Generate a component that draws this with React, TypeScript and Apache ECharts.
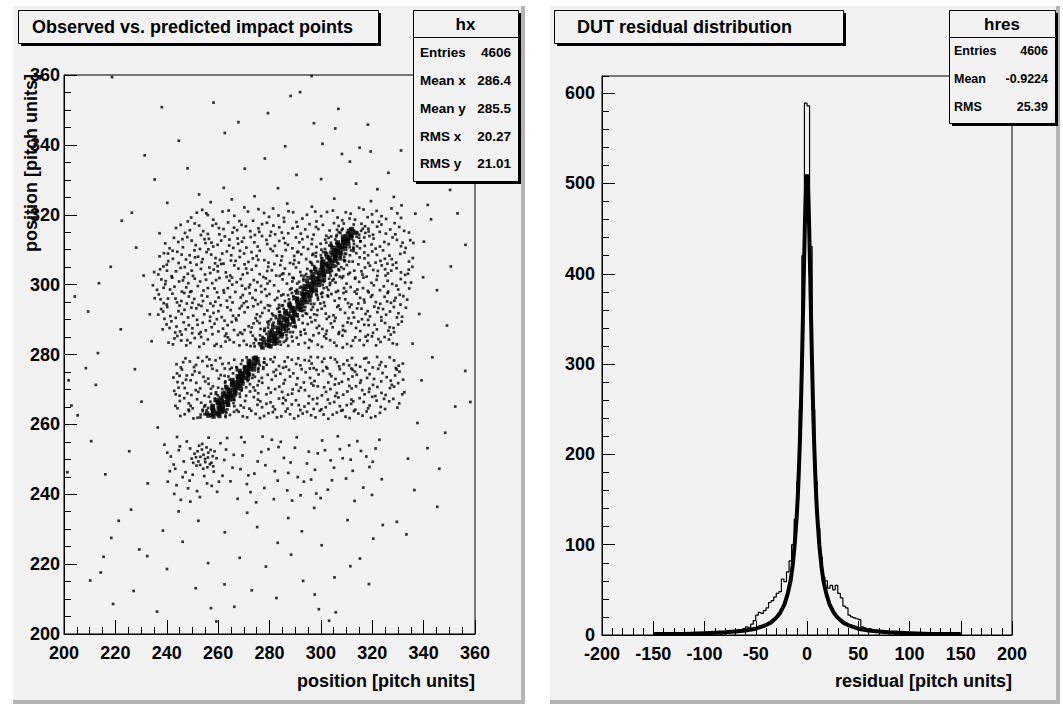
import React, { useEffect, useRef } from "react";
import * as echarts from "echarts";

const FONT = '"Liberation Sans", Arial, Helvetica, sans-serif';
const PAD = "#f2f2f2";

// ---- texts ----
const leftTitle = "Observed vs. predicted impact points";
const rightTitle = "DUT residual distribution";
const leftXTitle = "position [pitch units]";
const leftYTitle = "position [pitch units]";
const rightXTitle = "residual [pitch units]";

// ---- axes ----
const posRange = [200, 360];
const posStep = 20;
const resRange = [-200, 200];
const resStep = 50;
const countRange = [0, 619];
const countStep = 100;
const countMinorStep = 20;

// ---- stats boxes ----
const hxName = "hx";
const hxLabels = ["Entries", "Mean x", "Mean y", "RMS x", "RMS y"];
const hxValues = ["4606", "286.4", "285.5", "20.27", "21.01"];
const hresName = "hres";
const hresLabels = ["Entries", "Mean", "RMS"];
const hresValues = ["4606", "-0.9224", "25.39"];

// ---- scatter (observed vs predicted) ----
const sparseTop = [
  [218.7, 359.4], [238.1, 350.8], [262.6, 343.4], [279.4, 349.1], [288.2, 354.0], [291.9, 355.1], [297.3, 346.2],
  [306.8, 350.3], [305.6, 344.7], [308.2, 337.4], [315.1, 339.2], [319.4, 338.1], [326.3, 332.0], [322.0, 327.3],
  [331.2, 338.4], [328.4, 325.1], [311.3, 335.2], [300.6, 340.3], [286.1, 339.6], [278.2, 336.1], [270.4, 333.2],
  [262.2, 327.7], [248.1, 333.3], [231.4, 337.0], [240.2, 323.4], [226.4, 320.6], [258.2, 352.1], [296.4, 359.7],
  [345.1, 334.4], [337.2, 344.6], [350.3, 327.1], [353.2, 320.4], [283.3, 327.6], [290.5, 331.4], [318.3, 345.8],
  [300.1, 330.2], [274.2, 325.3], [252.6, 325.8], [235.3, 330.1], [267.9, 346.5], [313.7, 328.9], [341.6, 322.8],
  [244.7, 341.2], [305.2, 324.6], [257.1, 323.6], [286.9, 323.2], [319.5, 323.9], [331.4, 322.7], [265.3, 324.4],
];
const sparseSide = [
  [213.2, 280.4], [208.5, 276.1], [212.4, 271.3], [205.3, 262.6], [210.6, 255.2], [216.1, 245.7], [221.3, 232.4],
  [215.4, 222.1], [210.2, 215.3], [219.1, 208.6], [218.4, 227.5], [229.3, 224.2], [226.1, 235.6], [232.6, 243.1],
  [225.4, 252.3], [230.2, 266.5], [222.1, 287.2], [213.6, 300.4], [218.2, 305.1], [209.4, 292.3], [228.1, 310.6],
  [222.5, 318.3], [204.2, 296.6], [227.6, 275.8], [233.4, 291.5], [231.0, 302.6], [236.5, 259.1], [237.2, 314.7],
  [234.1, 283.8], [201.8, 272.6], [202.9, 265.4], [201.3, 246.3],
  [340.1, 312.3], [345.2, 298.4], [350.6, 305.2], [356.3, 311.4], [349.1, 288.3], [343.4, 279.2], [339.2, 272.6],
  [352.3, 265.1], [358.2, 266.4], [341.5, 253.2], [346.1, 247.3], [336.4, 241.2], [333.3, 228.5], [329.6, 232.1],
  [345.3, 236.4], [356.2, 275.3], [338.3, 291.6], [337.6, 260.4], [342.9, 318.7], [335.7, 283.1], [339.8, 302.1],
  [333.9, 250.2], [348.4, 257.6], [336.8, 320.3],
  [232.4, 222.3], [240.1, 218.6], [246.2, 226.4], [251.3, 213.1], [257.2, 207.4], [262.5, 214.2], [266.3, 207.8],
  [273.1, 212.5], [278.6, 219.3], [283.2, 226.1], [288.4, 222.7], [293.1, 215.2], [297.6, 211.3], [299.2, 207.1],
  [305.3, 216.2], [311.5, 219.4], [315.2, 221.6], [320.4, 227.3], [324.1, 231.2], [300.3, 225.4], [275.2, 230.6],
  [262.6, 229.1], [252.3, 232.4], [244.6, 235.1], [287.3, 233.2], [310.4, 232.6], [236.2, 206.4], [227.1, 212.3],
  [214.3, 217.6], [268.4, 221.8], [282.7, 210.3], [292.6, 229.4], [305.8, 206.2], [318.7, 214.3], [256.1, 220.3],
  [238.5, 229.6], [297.4, 236.1], [271.3, 234.7], [303.2, 203.8], [259.3, 203.6],
];
const cloudUpper = [
  [249.5, 319.2], [253.8, 321.4], [258.1, 318.6], [261.7, 320.9], [266.3, 319.7], [270.2, 322.1], [273.6, 318.3],
  [277.9, 320.5], [281.4, 321.8], [285.6, 319.1], [289.2, 320.7], [292.8, 318.9], [296.5, 322.3], [300.1, 319.6],
  [304.7, 321.2], [308.3, 318.4], [311.6, 320.3], [314.9, 322.0], [318.2, 319.3], [321.7, 321.1], [325.4, 318.8],
  [329.8, 320.4],
  [243.6, 316.2], [247.1, 314.8], [250.9, 317.5], [254.2, 315.3], [257.8, 316.9], [260.5, 314.4], [263.9, 317.8],
  [267.4, 315.6], [270.8, 316.7], [274.3, 314.2], [277.1, 317.3], [280.6, 315.1], [283.8, 316.4], [287.3, 314.7],
  [290.5, 317.9], [293.9, 315.8], [297.2, 314.3], [300.8, 317.1], [303.4, 315.5], [306.9, 316.8], [309.3, 314.1],
  [315.8, 317.4], [318.6, 315.2], [321.9, 316.6], [325.3, 314.6], [328.7, 317.6], [332.4, 315.4], [262.1, 315.9],
  [285.7, 318.0], [312.8, 317.2],
  [239.4, 311.8], [242.8, 313.4], [246.3, 310.7], [249.7, 312.6], [252.9, 310.2], [256.4, 313.1], [259.8, 311.4],
  [262.6, 313.8], [265.9, 310.5], [269.3, 312.3], [272.7, 313.6], [275.4, 310.9], [278.8, 312.8], [282.1, 311.1],
  [285.5, 313.3], [288.9, 310.4], [291.6, 312.1], [294.8, 313.7], [298.3, 310.8], [301.7, 312.9], [304.1, 311.3],
  [312.6, 310.6], [315.4, 312.4], [318.9, 313.9], [321.3, 310.3], [324.7, 312.2], [327.9, 313.5], [331.2, 311.0],
  [334.8, 312.7], [255.1, 311.9], [280.2, 314.0], [296.4, 311.6], [319.7, 311.5], [267.8, 311.7],
  [237.2, 308.1], [240.6, 306.7], [244.1, 309.4], [247.5, 307.2], [250.8, 309.8], [253.6, 306.4], [257.3, 308.6],
  [260.7, 307.1], [263.4, 309.5], [266.8, 306.8], [270.1, 308.9], [273.5, 307.5], [276.2, 309.7], [279.6, 306.3],
  [282.9, 308.3], [286.3, 309.9], [289.7, 307.0], [292.4, 308.7], [295.8, 306.5], [298.1, 309.1], [309.4, 306.9],
  [312.7, 309.6], [315.1, 307.8], [318.5, 306.2], [321.8, 308.5], [324.2, 309.8], [327.6, 307.3], [330.9, 308.8],
  [334.3, 306.6], [248.9, 308.4], [258.8, 306.1], [268.4, 307.9], [284.6, 306.9], [300.2, 307.6], [316.9, 309.2],
  [325.9, 306.0], [242.3, 309.7], [290.8, 309.3],
  [235.1, 303.6], [238.7, 305.2], [241.9, 302.4], [245.4, 304.8], [248.2, 303.1], [251.6, 305.7], [254.9, 302.9],
  [258.3, 304.3], [261.2, 305.9], [264.7, 302.6], [267.9, 304.6], [271.4, 303.3], [274.8, 305.4], [277.6, 302.2],
  [280.9, 304.1], [284.2, 305.6], [287.7, 303.0], [290.3, 304.9], [293.6, 302.5], [305.8, 302.7], [308.9, 304.5],
  [311.3, 303.4], [314.6, 305.8], [317.8, 302.3], [320.4, 304.2], [323.7, 305.5], [326.1, 303.2], [329.5, 304.7],
  [332.8, 302.8], [335.6, 305.1], [246.7, 302.1], [256.6, 304.9], [270.3, 305.8], [279.1, 303.9], [289.0, 302.0],
  [303.2, 305.3], [313.4, 302.0], [322.2, 303.9], [240.1, 304.0], [263.0, 303.5], [284.9, 303.0], [317.2, 304.9],
  [234.6, 299.8], [237.9, 301.5], [241.3, 298.6], [244.8, 300.9], [247.6, 299.2], [250.9, 301.7], [254.3, 298.3],
  [257.7, 300.4], [260.5, 301.9], [263.8, 299.0], [267.2, 300.7], [270.6, 298.8], [273.9, 301.3], [276.7, 299.6],
  [280.1, 301.0], [283.5, 298.1], [286.8, 300.3], [289.4, 301.8], [302.9, 298.5], [305.7, 300.6], [308.2, 301.9],
  [311.6, 299.3], [314.9, 300.8], [318.3, 298.2], [321.7, 301.4], [324.5, 299.5], [327.8, 300.2], [331.1, 301.6],
  [334.4, 298.9], [239.4, 300.1], [252.1, 299.6], [265.4, 302.0], [278.3, 298.7], [291.8, 299.1], [300.7, 301.4],
  [316.6, 302.0], [326.2, 298.0], [245.9, 298.0], [272.4, 300.0], [309.8, 298.0],
  [235.3, 296.1], [238.8, 294.7], [242.2, 297.4], [245.7, 295.3], [249.1, 297.9], [252.4, 294.2], [255.8, 296.6],
  [258.9, 295.1], [262.3, 297.7], [265.6, 294.9], [268.8, 296.3], [272.3, 297.5], [275.5, 294.4], [278.9, 296.8],
  [282.1, 295.6], [285.4, 297.2], [299.8, 294.6], [302.6, 296.9], [305.4, 295.4], [308.8, 297.6], [311.9, 294.3],
  [315.3, 296.2], [318.6, 297.8], [321.4, 295.0], [324.8, 296.5], [327.3, 294.8], [330.7, 297.1], [333.6, 295.7],
  [240.5, 296.0], [250.7, 295.9], [261.0, 294.1], [271.0, 295.2], [283.7, 294.2], [295.7, 297.9], [306.9, 294.0],
  [317.0, 294.9], [329.1, 296.2], [247.8, 294.6], [276.9, 297.9], [313.2, 298.0],
  [236.7, 291.4], [240.2, 293.6], [243.5, 290.5], [246.9, 292.8], [250.3, 291.1], [253.5, 293.9], [256.9, 290.8],
  [260.1, 292.4], [263.6, 293.5], [266.9, 290.3], [270.3, 292.1], [273.7, 293.8], [276.4, 290.9], [279.7, 292.6],
  [282.4, 291.0], [295.9, 290.6], [298.7, 292.7], [301.5, 293.9], [304.9, 291.2], [307.6, 292.9], [310.8, 290.4],
  [314.1, 293.2], [317.4, 291.6], [320.8, 293.7], [323.5, 290.7], [326.9, 292.3], [330.2, 291.8], [333.1, 293.4],
  [245.0, 294.0], [258.2, 291.9], [268.4, 293.2], [283.8, 293.4], [292.9, 291.1], [302.3, 290.2], [312.5, 292.0],
  [322.0, 292.1], [238.6, 292.3], [275.1, 291.5], [316.0, 290.1],
  [238.4, 287.2], [241.8, 289.5], [245.2, 286.6], [248.6, 288.4], [251.8, 289.9], [255.2, 286.9], [258.6, 288.8],
  [261.9, 287.4], [265.3, 289.3], [268.6, 286.3], [271.9, 288.1], [275.2, 289.6], [278.0, 286.8], [292.1, 286.5],
  [294.9, 288.7], [297.8, 289.8], [300.6, 287.3], [303.9, 288.9], [307.1, 286.4], [310.4, 289.2], [313.7, 287.6],
  [316.9, 288.5], [320.3, 286.2], [323.6, 289.7], [326.8, 287.8], [330.1, 288.6], [243.8, 288.0], [254.0, 289.1],
  [263.2, 286.0], [273.1, 287.7], [289.3, 289.9], [299.2, 286.1], [308.6, 288.2], [318.4, 289.9], [328.5, 286.4],
  [249.9, 286.1], [281.6, 289.1],
  [240.7, 283.4], [244.1, 285.3], [247.6, 282.6], [250.9, 284.7], [254.4, 283.1], [257.8, 285.8], [261.1, 282.3],
  [264.5, 284.2], [267.7, 285.6], [271.1, 282.8], [274.4, 284.5], [287.3, 282.5], [290.6, 284.8], [293.8, 283.3],
  [297.1, 285.5], [300.4, 282.2], [303.6, 284.1], [306.9, 285.9], [310.2, 283.0], [313.4, 284.9], [316.7, 282.7],
  [319.9, 285.2], [323.2, 283.6], [326.5, 284.3], [329.6, 282.9], [252.6, 285.9], [262.9, 283.7], [276.8, 282.1],
  [285.0, 285.7], [295.3, 281.9], [308.5, 282.0], [318.1, 283.9], [245.6, 284.0], [270.0, 283.9], [302.0, 285.9],
];
const cloudUpper2 = [
  [251.7, 320.6], [256.0, 319.9], [264.1, 321.2], [268.3, 318.2], [275.7, 321.6], [279.8, 319.4], [287.4, 321.0],
  [294.6, 320.0], [298.3, 318.1], [302.4, 320.8], [306.5, 319.2], [313.3, 318.6], [316.6, 321.5], [319.9, 320.1],
  [323.6, 319.6], [327.5, 321.8],
  [245.4, 317.1], [249.0, 315.6], [252.6, 316.9], [256.0, 314.5], [259.2, 317.4], [265.6, 314.9], [269.1, 317.1],
  [272.5, 315.3], [275.7, 316.1], [279.0, 317.7], [282.2, 314.4], [289.0, 316.1], [292.2, 314.6], [295.6, 317.3],
  [299.0, 315.9], [302.1, 314.0], [305.1, 317.6], [308.1, 315.6], [314.2, 314.9], [317.2, 316.7], [320.3, 314.3],
  [323.6, 317.2], [327.0, 315.8], [330.5, 316.5],
  [241.1, 310.4], [244.5, 312.2], [248.0, 313.6], [251.3, 311.3], [254.7, 313.0], [258.1, 310.9], [261.2, 312.6],
  [264.3, 311.2], [267.6, 313.2], [271.0, 310.6], [274.1, 312.1], [277.1, 313.9], [280.4, 310.2], [283.8, 312.5],
  [287.2, 311.4], [290.3, 313.5], [293.2, 310.7], [296.6, 313.0], [299.9, 311.7], [303.0, 313.4], [313.9, 313.7],
  [317.1, 311.1], [320.5, 313.2], [323.0, 310.9], [326.4, 311.6], [329.6, 312.8], [333.0, 310.5], [336.0, 311.9],
  [238.9, 309.0], [242.4, 307.4], [245.8, 308.6], [249.2, 306.3], [252.2, 308.0], [255.5, 309.3], [259.0, 307.6],
  [262.1, 306.0], [265.1, 308.4], [268.5, 309.7], [271.8, 306.5], [275.0, 308.2], [278.0, 307.0], [281.3, 309.6],
  [284.9, 308.1], [288.0, 306.2], [291.2, 309.4], [294.3, 307.3], [297.0, 308.8], [307.6, 308.0], [311.0, 306.6],
  [313.8, 309.0], [317.0, 307.5], [320.0, 309.5], [323.2, 306.8], [326.7, 308.3], [329.3, 306.3], [332.6, 309.2],
  [335.8, 307.6],
  [236.7, 302.9], [240.0, 305.7], [243.6, 303.8], [247.0, 305.0], [250.2, 302.5], [253.3, 304.5], [256.9, 303.3],
  [259.8, 305.3], [263.3, 302.2], [266.3, 305.5], [269.6, 302.9], [273.1, 304.3], [276.2, 303.0], [279.5, 305.1],
  [282.6, 302.6], [286.0, 304.6], [289.3, 305.9], [292.0, 303.6], [304.3, 303.9], [307.4, 302.3], [310.1, 305.6],
  [313.0, 304.0], [316.2, 302.9], [319.1, 305.4], [322.0, 302.5], [325.0, 304.4], [328.0, 305.7], [331.2, 303.5],
  [334.2, 304.3],
  [236.2, 298.5], [239.6, 301.0], [243.0, 299.4], [246.3, 301.2], [249.6, 298.1], [253.0, 300.9], [256.0, 299.0],
  [259.2, 301.3], [262.1, 298.4], [265.5, 300.0], [268.8, 301.6], [272.0, 299.2], [275.3, 300.7], [278.6, 301.8],
  [281.8, 299.8], [285.1, 301.5], [288.0, 298.6], [303.5, 299.9], [306.7, 298.2], [310.0, 300.3], [313.3, 301.7],
  [316.4, 299.0], [319.7, 300.5], [323.0, 298.4], [326.0, 301.1], [329.4, 299.7], [332.8, 300.6],
  [236.9, 297.2], [240.0, 294.3], [243.4, 296.0], [246.8, 297.6], [250.0, 294.8], [253.6, 296.9], [257.0, 294.6],
  [260.2, 296.3], [263.4, 295.4], [266.7, 297.9], [270.0, 294.7], [273.4, 296.2], [276.7, 295.0], [280.0, 297.3],
  [283.0, 296.2], [298.5, 297.0], [301.2, 294.9], [304.1, 297.3], [307.2, 296.1], [310.6, 294.7], [313.9, 297.4],
  [316.8, 295.7], [320.0, 297.0], [323.1, 294.5], [326.0, 297.6], [328.6, 295.4], [332.1, 296.7],
  [237.8, 293.0], [241.4, 291.0], [244.6, 292.4], [248.3, 290.6], [251.5, 293.2], [254.6, 291.5], [258.1, 293.9],
  [261.4, 290.7], [264.9, 292.7], [268.0, 291.2], [271.5, 293.5], [274.6, 290.4], [278.1, 293.3], [281.0, 291.7],
  [297.4, 291.5], [300.3, 293.1], [303.2, 290.8], [306.4, 293.6], [309.4, 291.9], [312.9, 290.6], [315.8, 293.1],
  [319.1, 290.9], [322.4, 293.3], [325.4, 291.4], [328.4, 293.6], [331.6, 290.8],
  [239.9, 288.6], [243.3, 286.3], [246.6, 289.2], [250.0, 287.5], [253.2, 286.4], [256.8, 289.6], [260.1, 286.6],
  [263.7, 288.4], [267.1, 289.8], [270.3, 287.0], [273.8, 288.9], [276.5, 287.3], [293.6, 287.1], [296.4, 289.3],
  [299.3, 288.2], [302.3, 286.8], [305.3, 289.6], [308.6, 287.0], [311.8, 288.9], [315.3, 286.7], [318.6, 288.4],
  [321.8, 287.2], [325.0, 289.0], [328.3, 287.6], [331.5, 289.4],
  [242.4, 282.9], [245.8, 285.7], [249.2, 283.3], [252.7, 282.2], [256.0, 284.3], [259.4, 283.0], [262.7, 285.3],
  [266.1, 283.5], [269.4, 285.9], [272.6, 282.4], [289.0, 283.8], [292.2, 285.6], [295.6, 284.2], [298.8, 282.8],
  [302.1, 284.6], [305.2, 283.4], [308.4, 285.4], [311.8, 282.4], [315.1, 284.1], [318.3, 285.6], [321.5, 282.6],
  [324.8, 285.0], [328.0, 283.2],
];
const cloudUpper3 = [
  [248.2, 318.1], [255.4, 320.4], [260.3, 316.2], [271.6, 320.9], [283.5, 319.8], [290.9, 316.6], [297.8, 320.9],
  [309.7, 320.7], [311.4, 316.0], [322.6, 318.0], [331.2, 319.1],
  [246.1, 313.0], [253.3, 314.2], [257.4, 312.0], [266.2, 316.3], [270.0, 313.4], [276.0, 315.1], [281.5, 316.9],
  [284.8, 314.9], [292.8, 313.0], [298.1, 316.5], [306.2, 314.2], [316.3, 316.0], [322.9, 315.1], [329.0, 314.4],
  [334.3, 314.9],
  [240.5, 308.9], [251.0, 307.8], [256.2, 310.1], [261.6, 308.9], [264.4, 312.9], [273.0, 309.3], [279.1, 311.6],
  [286.1, 311.9], [289.6, 308.2], [295.0, 310.2], [306.0, 311.9], [310.8, 312.2], [315.2, 310.4], [318.4, 308.4],
  [324.9, 307.4], [331.8, 312.0],
  [237.4, 304.4], [244.6, 306.2], [249.7, 304.0], [254.0, 307.3], [259.9, 303.8], [265.0, 306.9], [270.9, 304.6],
  [275.6, 307.1], [281.9, 305.9], [285.4, 303.2], [291.4, 306.3], [296.7, 308.5], [306.8, 306.0], [310.7, 303.0],
  [315.8, 303.8], [321.3, 306.3], [327.4, 304.0], [333.9, 303.1],
  [238.8, 299.1], [242.1, 302.0], [248.4, 300.4], [255.3, 301.4], [258.6, 298.9], [264.4, 301.1], [269.3, 299.7],
  [274.6, 298.4], [279.2, 300.3], [284.0, 302.5], [288.9, 300.9], [305.0, 301.6], [309.0, 299.0], [314.2, 298.6],
  [320.6, 299.8], [325.2, 302.6], [330.1, 298.6], [335.1, 300.6],
  [237.6, 295.8], [244.0, 294.9], [248.6, 296.6], [254.1, 295.3], [259.6, 297.8], [264.6, 296.4], [269.6, 297.0],
  [274.5, 295.6], [279.4, 294.1], [284.6, 296.9], [300.5, 296.5], [305.9, 297.9], [309.5, 295.8], [314.6, 294.6],
  [319.5, 296.5], [325.8, 295.2], [331.0, 294.3],
  [239.1, 290.2], [245.8, 291.6], [249.6, 293.4], [255.8, 292.6], [259.5, 290.1], [265.8, 291.1], [269.2, 293.9],
  [277.2, 291.9], [280.2, 293.9], [296.9, 293.6], [301.9, 291.7], [305.7, 290.5], [311.2, 293.6], [318.2, 292.4],
  [324.2, 293.0], [329.6, 290.6],
  [241.1, 287.6], [247.4, 287.2], [252.0, 288.5], [257.5, 287.8], [262.5, 289.7], [266.2, 287.0], [272.7, 286.4],
  [276.1, 289.0], [294.0, 286.0], [298.4, 287.6], [304.6, 287.8], [309.5, 286.7], [314.6, 289.4], [320.9, 288.5],
  [326.3, 286.8],
  [243.0, 284.6], [248.0, 284.1], [253.4, 285.0], [258.6, 282.5], [263.8, 284.9], [268.3, 282.6], [273.5, 285.4],
  [291.3, 282.9], [296.4, 283.8], [301.3, 285.2], [306.1, 282.5], [312.5, 284.0], [317.4, 285.1], [322.4, 284.4],
  [327.2, 285.7],
];
const envelopeUpper = [
  [273.9, 283.2], [285.6, 283.6], [276.3, 285.5], [288.7, 285.1], [278.1, 287.4], [290.2, 287.8], [279.2, 289.3],
  [292.9, 289.0], [281.4, 291.2], [294.6, 291.6], [283.1, 293.1], [296.3, 292.8], [286.0, 295.3], [298.9, 295.7],
  [287.2, 297.0], [300.1, 297.4], [288.6, 298.9], [302.3, 299.2], [291.5, 300.8], [303.6, 300.5], [292.4, 302.6],
  [306.0, 302.9], [294.7, 304.5], [307.1, 304.1], [296.3, 306.3], [309.2, 306.7], [298.0, 308.1], [311.3, 308.4],
  [300.2, 310.0], [312.8, 310.3], [302.1, 312.0], [315.4, 312.4], [304.0, 313.8], [316.9, 313.5], [306.3, 315.7],
  [318.5, 316.0], [308.9, 317.5], [320.1, 317.9],
  [276.5, 284.3], [286.4, 284.0], [279.6, 288.6], [289.3, 288.0], [284.0, 292.2], [292.7, 292.4], [285.2, 294.1],
  [297.4, 294.5], [290.1, 298.1], [300.6, 297.7], [293.2, 301.7], [304.5, 301.2], [297.4, 305.3], [307.9, 305.0],
  [300.9, 309.3], [309.8, 308.8], [303.3, 311.2], [314.1, 311.0], [307.0, 315.0], [317.3, 314.8], [311.2, 318.9],
  [280.6, 290.1], [291.0, 296.2], [296.0, 303.9], [305.4, 307.4], [288.0, 286.4], [298.5, 291.3], [302.8, 296.6],
  [308.7, 302.4], [312.4, 306.6],
  [274.2, 282.3], [284.4, 282.8], [275.9, 283.2], [284.1, 283.7], [274.7, 284.1], [286.8, 284.6], [277.3, 285.0],
  [286.6, 285.5], [278.8, 285.9], [289.1, 286.4], [278.0, 286.8], [287.5, 287.3], [279.4, 287.7], [290.1, 288.2],
  [281.2, 288.6], [289.7, 289.1], [279.9, 289.5], [291.4, 290.0], [282.5, 290.4], [291.0, 290.9], [284.1, 291.3],
  [294.1, 291.8], [283.7, 292.2], [293.6, 292.7], [285.5, 293.1], [293.9, 293.6], [284.8, 294.0], [296.2, 294.5],
  [287.9, 294.9], [295.9, 295.4], [287.6, 295.8], [298.8, 296.3], [289.3, 296.7], [298.2, 297.2], [288.7, 297.6],
  [298.3, 298.1], [290.7, 298.5], [301.1, 299.0], [292.3, 299.4], [300.7, 299.9], [290.8, 300.3], [301.2, 300.8],
  [293.2, 301.2], [303.2, 301.7], [294.8, 302.1], [303.8, 302.6], [294.3, 303.0], [303.6, 303.5], [296.4, 303.9],
  [306.8, 304.4], [297.6, 304.8], [306.0, 305.3], [296.6, 305.7], [306.5, 306.2], [298.7, 306.6], [308.9, 307.1],
  [300.5, 307.5], [309.1, 308.0], [300.0, 308.4], [309.3, 308.9], [301.9, 309.3], [311.8, 309.8], [301.6, 310.2],
  [311.2, 310.7], [304.0, 311.1], [312.9, 311.6], [303.9, 312.0], [312.7, 312.5], [305.6, 312.9], [314.9, 313.4],
  [306.0, 313.8], [314.9, 314.3], [307.6, 314.8], [315.7, 315.4], [308.5, 316.0],
];
const cloudMiddle = [
  [243.8, 277.2], [247.3, 278.9], [250.6, 276.4], [253.9, 278.1], [257.4, 276.9], [260.8, 279.0], [264.1, 277.5],
  [267.3, 276.2], [280.4, 278.6], [283.7, 276.7], [287.1, 279.2], [290.4, 277.3], [293.7, 278.4], [297.2, 276.1],
  [300.5, 277.9], [303.8, 279.1], [307.1, 276.6], [310.3, 278.3], [313.6, 277.0], [316.9, 278.8], [320.2, 276.3],
  [323.5, 277.8], [326.8, 279.2], [330.3, 276.8], [255.6, 279.3], [285.9, 278.0], [296.1, 279.3], [311.9, 276.0],
  [277.6, 276.4],
  [242.6, 273.4], [245.9, 275.7], [249.3, 272.6], [252.7, 274.8], [256.1, 273.1], [259.5, 275.4], [262.8, 272.3],
  [274.3, 273.6], [277.6, 275.9], [280.9, 272.8], [284.2, 274.5], [287.6, 275.6], [290.9, 273.2], [294.1, 274.9],
  [297.5, 272.4], [300.8, 275.3], [304.1, 273.8], [307.4, 275.8], [310.7, 272.9], [314.0, 274.2], [317.3, 275.5],
  [320.7, 273.0], [324.0, 274.7], [327.2, 272.5], [330.6, 275.1], [247.8, 274.0], [264.6, 275.8], [282.4, 273.9],
  [295.7, 276.0], [312.3, 273.7], [244.2, 272.1], [302.9, 272.0],
  [242.9, 269.6], [246.2, 271.8], [249.6, 268.4], [253.0, 270.3], [256.3, 271.6], [259.1, 268.7], [270.9, 268.2],
  [273.8, 270.6], [277.2, 271.9], [280.5, 269.1], [283.8, 270.8], [287.2, 268.5], [290.5, 271.4], [293.8, 269.8],
  [297.1, 271.1], [300.4, 268.3], [303.7, 270.1], [307.0, 271.7], [310.3, 269.4], [313.7, 270.9], [317.0, 268.6],
  [320.3, 271.3], [323.6, 269.0], [326.9, 270.4], [330.1, 271.8], [251.5, 271.9], [275.6, 268.9], [289.0, 270.0],
  [305.6, 268.1], [318.9, 270.2], [332.5, 269.2], [245.0, 268.2],
  [243.4, 265.3], [246.8, 267.5], [250.1, 264.6], [253.4, 266.2], [256.4, 267.9], [267.3, 264.1], [270.5, 266.7],
  [273.9, 267.8], [277.1, 264.9], [280.4, 266.3], [283.7, 267.4], [287.0, 264.5], [290.3, 266.9], [293.6, 265.1],
  [296.9, 267.2], [300.2, 264.3], [303.5, 266.0], [306.8, 267.7], [310.1, 265.5], [313.4, 264.2], [316.7, 266.4],
  [320.0, 267.9], [323.3, 265.0], [326.6, 266.6], [329.8, 264.8], [248.6, 266.0], [275.3, 265.6], [285.2, 266.0],
  [298.5, 265.9], [311.9, 267.1], [264.0, 267.0],
  [245.3, 262.4], [248.7, 263.8], [252.0, 261.9], [262.9, 262.1], [266.2, 263.6], [269.6, 262.3], [272.9, 263.9],
  [276.3, 261.8], [279.6, 263.2], [282.9, 262.0], [286.3, 263.7], [289.6, 261.7], [292.9, 263.1], [296.2, 262.6],
  [299.6, 263.9], [302.9, 261.6], [306.2, 263.4], [309.6, 262.2], [312.9, 263.8], [316.2, 262.5], [319.5, 261.9],
  [323.0, 263.3], [274.6, 263.0], [288.0, 262.9], [301.1, 262.8],
];
const cloudMiddle2 = [
  [245.5, 276.3], [249.0, 278.0], [252.2, 279.1], [255.8, 276.7], [259.0, 278.3], [262.6, 276.0], [278.9, 277.1],
  [282.0, 279.2], [285.3, 276.2], [288.7, 278.5], [292.0, 276.9], [295.4, 278.2], [298.8, 279.2], [302.1, 276.4],
  [305.5, 278.6], [308.8, 277.2], [312.1, 279.0], [315.3, 276.5], [318.6, 277.7], [321.9, 279.3], [325.2, 276.6],
  [328.5, 278.3], [331.9, 277.4],
  [244.0, 274.6], [247.5, 272.8], [250.9, 275.2], [254.3, 273.6], [257.8, 275.9], [261.0, 274.1], [275.9, 272.4],
  [279.3, 274.2], [282.6, 275.6], [286.0, 272.7], [289.3, 274.6], [292.5, 275.8], [295.8, 273.3], [299.1, 274.3],
  [302.5, 276.0], [305.7, 273.0], [309.0, 274.6], [312.4, 275.6], [315.6, 272.6], [319.0, 274.4], [322.3, 275.9],
  [325.6, 273.5], [328.9, 274.0], [332.0, 272.8],
  [244.6, 270.5], [248.0, 268.9], [251.3, 269.8], [254.7, 268.2], [258.0, 270.9], [272.4, 269.4], [275.4, 271.2],
  [278.8, 268.6], [282.2, 270.1], [285.5, 271.7], [288.8, 268.8], [292.2, 270.5], [295.4, 268.1], [298.8, 270.9],
  [302.0, 269.3], [305.4, 271.4], [308.7, 268.5], [312.0, 270.3], [315.3, 271.9], [318.7, 269.3], [322.0, 270.7],
  [325.2, 268.4], [328.5, 270.8], [331.7, 268.6],
  [245.1, 266.7], [248.5, 264.2], [251.8, 267.2], [255.0, 265.5], [268.8, 265.4], [272.2, 264.5], [275.5, 267.1],
  [278.8, 265.9], [282.1, 264.3], [285.4, 267.6], [288.7, 265.7], [292.0, 264.1], [295.2, 266.0], [298.6, 267.5],
  [301.9, 264.9], [305.2, 266.4], [308.5, 264.1], [311.8, 265.9], [315.1, 267.5], [318.4, 264.6], [321.7, 266.8],
  [325.0, 264.4], [328.2, 267.3],
  [247.0, 262.9], [250.4, 261.7], [264.6, 262.7], [268.0, 263.6], [271.3, 262.0], [277.9, 262.4], [281.3, 263.5],
  [284.6, 262.3], [291.2, 262.4], [294.6, 263.6], [297.9, 262.0], [304.6, 262.8], [307.9, 263.9], [311.2, 261.8],
  [314.6, 263.1], [317.8, 263.7], [321.2, 262.3],
  [246.4, 277.8], [251.4, 277.0], [256.6, 278.6], [261.7, 277.3], [281.4, 277.9], [286.4, 276.5], [291.2, 278.9],
  [296.4, 277.4], [301.3, 278.8], [306.3, 277.8], [311.0, 276.9], [317.7, 279.0], [322.9, 277.0], [329.2, 276.1],
  [245.0, 273.9], [250.0, 274.2], [255.0, 272.3], [260.3, 273.1], [277.0, 273.3], [281.6, 275.0], [288.0, 273.7],
  [293.4, 272.0], [298.3, 275.6], [303.5, 274.4], [308.2, 272.2], [313.3, 275.1], [318.0, 273.3], [323.5, 272.3],
  [329.5, 275.7],
  [243.5, 268.6], [247.0, 270.4], [252.3, 269.3], [257.2, 270.2], [274.4, 269.7], [279.6, 270.4], [284.9, 269.3],
  [291.4, 269.6], [296.3, 271.7], [301.3, 270.6], [306.2, 269.0], [311.1, 271.0], [316.1, 269.8], [321.2, 268.1],
  [327.6, 271.3],
  [244.2, 264.6], [249.3, 265.3], [254.0, 264.2], [270.0, 264.8], [276.4, 266.6], [281.4, 265.1], [286.3, 266.9],
  [291.4, 265.5], [297.2, 264.4], [302.7, 267.1], [307.4, 265.2], [312.6, 266.6], [319.0, 265.4], [324.6, 267.3],
  [330.5, 266.0],
];
const envelopeLower = [
  [253.2, 262.8], [254.6, 265.1], [255.5, 264.0], [263.8, 265.9], [265.2, 268.2], [257.2, 268.8], [260.0, 270.5],
  [268.1, 271.0], [268.9, 273.4], [262.5, 273.9], [265.3, 276.2], [271.7, 277.4], [273.6, 279.0], [275.5, 275.8],
  [266.3, 278.5], [258.7, 266.7], [261.4, 264.0], [270.2, 275.0], [277.9, 277.7], [262.4, 269.3],
  [253.1, 262.0], [262.9, 262.5], [254.7, 262.9], [263.2, 263.4], [254.0, 263.8], [263.6, 264.3], [256.1, 264.7],
  [266.3, 265.2], [257.5, 265.6], [266.0, 266.1], [257.0, 266.5], [266.2, 267.0], [258.7, 267.4], [268.5, 267.9],
  [259.9, 268.3], [268.4, 268.8], [259.2, 269.2], [269.1, 269.7], [261.6, 270.1], [270.9, 270.6], [262.9, 271.0],
  [272.4, 271.5], [262.7, 271.9], [271.5, 272.4], [264.5, 272.8], [273.3, 273.3], [264.0, 273.7], [273.6, 274.2],
  [265.8, 274.6], [275.6, 275.1], [267.3, 275.5], [275.7, 276.0], [267.1, 276.4], [276.2, 276.9], [268.9, 277.3],
  [277.9, 277.8], [269.4, 278.3], [278.0, 278.8], [271.1, 279.2],
];
const cloudLower = [
  [250.8, 251.6], [252.3, 249.4], [253.7, 252.8], [254.9, 250.1], [256.2, 251.9], [257.4, 249.0], [251.6, 248.2],
  [255.5, 253.4], [253.1, 250.7], [256.8, 248.6], [258.6, 252.3], [249.7, 250.2], [254.2, 247.3], [252.6, 253.9],
  [257.9, 250.9], [255.0, 249.2],
  [239.1, 254.2], [241.6, 250.8], [243.3, 247.3], [244.7, 252.6], [246.2, 244.9], [247.8, 255.1], [240.4, 243.6],
  [242.9, 240.1], [245.5, 238.4], [248.3, 241.7], [250.1, 245.6], [252.9, 239.2], [255.7, 243.1], [258.3, 246.5],
  [260.9, 254.6], [262.4, 249.8], [264.8, 243.7], [266.1, 251.3], [268.7, 247.2], [270.3, 254.9], [272.6, 240.6],
  [274.1, 245.9], [276.8, 252.1], [278.4, 248.3], [280.9, 255.6], [283.2, 243.9], [285.6, 250.4], [287.3, 246.1],
  [289.9, 253.3], [292.1, 239.7], [294.6, 248.8], [296.2, 244.2], [298.8, 251.7], [300.5, 255.4], [302.7, 241.3],
  [305.1, 247.6], [307.4, 252.9], [309.8, 244.5], [311.6, 249.9], [314.2, 255.2], [316.5, 241.9], [318.9, 247.8],
  [321.3, 253.1], [323.7, 244.3], [259.6, 240.7], [263.5, 256.1], [271.2, 242.9], [281.7, 238.6], [290.6, 256.3],
  [299.9, 238.9], [306.6, 256.6], [313.1, 238.1], [244.0, 256.4], [249.2, 237.9], [267.6, 238.7], [286.9, 241.1],
  [303.8, 249.7], [317.7, 250.8], [277.3, 256.5], [241.2, 246.6], [261.7, 245.3], [293.4, 243.6], [311.0, 254.0],
  [246.6, 249.4], [283.5, 253.5], [319.9, 239.8], [256.3, 256.2], [274.8, 237.7],
  [251.4, 250.6], [253.0, 248.4], [254.3, 251.3], [256.0, 250.5], [257.1, 252.7], [252.0, 252.3], [255.8, 247.7],
  [250.3, 249.0], [258.1, 248.0], [253.8, 254.4], [249.1, 253.1], [259.4, 250.3], [240.2, 251.9], [242.7, 248.5],
  [245.1, 253.7], [247.3, 246.3], [243.8, 242.6], [248.9, 243.9], [251.8, 240.9], [254.6, 245.2], [257.5, 242.4],
  [263.1, 252.8], [265.6, 247.6], [269.5, 251.1], [271.8, 245.4], [275.4, 249.4], [279.6, 252.9], [282.1, 246.6],
  [284.4, 255.0], [288.2, 249.1], [291.0, 244.9], [295.3, 252.2], [297.7, 247.0], [301.6, 252.6], [304.3, 244.0],
  [308.5, 250.3], [312.4, 246.7], [315.6, 252.4], [320.2, 249.3], [322.8, 255.6], [260.3, 243.6], [278.0, 241.8],
  [298.2, 240.2], [269.0, 256.3], [288.8, 238.2],
];
const bandUpper = [
  [277.3, 282.0], [280.4, 282.3], [279.0, 282.7], [281.9, 283.1], [277.8, 283.4], [281.1, 283.9], [279.8, 284.2],
  [283.0, 284.6], [279.9, 285.0], [282.0, 285.3], [284.9, 285.8], [282.1, 286.1], [284.2, 286.5], [280.9, 286.8],
  [284.2, 287.2], [283.1, 287.7], [286.5, 288.0], [284.6, 288.4], [286.6, 288.7], [283.7, 289.1], [286.9, 289.6],
  [285.7, 289.9], [289.2, 290.3], [285.7, 290.6], [287.8, 291.0], [289.7, 291.5], [286.1, 291.8], [289.6, 292.2],
  [288.6, 292.5], [291.7, 293.0], [288.8, 293.3], [291.3, 293.7], [287.9, 294.0], [291.0, 294.4], [293.2, 294.9],
  [290.9, 295.2], [292.7, 295.6], [290.7, 295.9], [295.5, 296.3], [293.1, 296.8], [294.9, 297.1], [292.7, 297.5],
  [294.7, 297.8], [296.7, 298.2], [293.2, 298.7], [296.4, 299.0], [295.3, 299.4], [297.8, 299.7], [295.1, 300.1],
  [297.3, 300.6], [299.7, 300.9], [296.9, 301.3], [299.1, 301.6], [296.2, 302.0], [299.5, 302.5], [301.2, 302.8],
  [299.3, 303.2], [298.2, 303.5], [301.6, 303.9], [300.9, 304.4], [303.7, 304.7], [300.4, 305.1], [302.6, 305.4],
  [301.8, 305.8], [304.3, 306.3], [301.0, 306.6], [303.8, 307.0], [305.6, 307.3], [303.2, 307.7], [305.5, 308.2],
  [304.7, 308.5], [307.5, 308.9], [304.1, 309.2], [306.6, 309.6], [307.9, 310.1], [306.1, 310.4], [307.4, 310.8],
  [309.5, 311.1], [306.6, 311.5], [309.1, 312.0], [308.6, 312.3], [310.4, 312.7], [309.7, 313.1], [310.4, 313.5],
  [312.0, 314.0], [310.5, 314.6], [312.6, 315.2], [312.1, 315.9],
  [279.9, 282.5], [276.6, 282.9], [282.9, 283.3], [279.6, 283.7], [282.2, 284.0], [277.7, 284.4], [281.6, 284.8],
  [284.6, 285.2], [280.7, 285.6], [283.3, 286.0], [280.1, 286.3], [286.5, 286.7], [283.4, 287.0], [285.5, 287.4],
  [281.4, 287.9], [285.3, 288.2], [287.8, 288.6], [284.5, 289.0], [289.3, 289.4], [283.8, 289.8], [286.8, 290.1],
  [288.9, 290.5], [284.1, 290.9], [290.6, 291.3], [287.3, 291.7], [289.7, 292.0], [286.3, 292.4], [292.3, 292.8],
  [290.1, 293.2], [288.2, 293.5], [292.7, 293.9], [287.7, 294.3], [291.9, 294.7], [294.7, 295.0], [290.8, 295.4],
  [293.7, 295.8], [289.7, 296.1], [293.5, 296.5], [296.0, 296.9], [293.4, 297.3], [290.8, 297.7], [296.2, 298.0],
  [298.0, 298.4], [294.0, 298.8], [296.3, 299.2], [293.7, 299.6], [299.3, 299.9], [296.6, 300.3], [298.5, 300.7],
  [294.6, 301.1], [301.2, 301.4], [298.4, 301.8], [297.0, 302.2], [301.2, 302.6], [296.7, 303.0], [300.8, 303.4],
  [302.9, 303.7], [299.9, 304.1], [297.8, 304.5], [303.0, 304.9], [304.8, 305.3], [300.6, 305.6], [302.9, 306.0],
  [300.4, 306.4], [305.7, 306.8], [303.4, 307.2], [307.4, 307.5], [302.5, 307.9], [305.9, 308.3], [302.1, 308.7],
  [307.7, 309.0], [305.9, 309.4], [305.1, 309.8], [309.5, 310.2], [304.5, 310.6], [308.2, 310.9], [307.3, 311.3],
  [310.7, 311.7], [306.6, 312.1], [310.4, 312.5], [308.7, 312.9], [311.8, 313.3], [308.6, 313.7], [311.6, 314.2],
  [313.5, 314.8], [310.9, 315.4],
];
const bandLower = [
  [258.2, 262.2], [256.2, 262.5], [260.0, 262.9], [258.3, 263.2], [261.3, 263.6], [258.2, 263.9], [260.6, 264.3],
  [257.7, 264.6], [261.8, 265.0], [260.7, 265.4], [263.7, 265.7], [260.1, 266.1], [262.5, 266.4], [261.4, 266.8],
  [264.5, 267.1], [261.0, 267.5], [263.6, 267.9], [264.9, 268.2], [263.0, 268.6], [266.7, 268.9], [264.3, 269.3],
  [266.1, 269.7], [263.7, 270.0], [267.4, 270.4], [266.1, 270.7], [268.6, 271.1], [265.7, 271.5], [267.7, 271.8],
  [265.5, 272.2], [269.1, 272.5], [267.8, 272.9], [270.6, 273.3], [268.1, 273.6], [269.8, 274.0], [272.0, 274.4],
  [268.6, 274.7], [271.3, 275.1], [270.7, 275.5], [272.7, 275.8], [270.5, 276.2], [272.6, 276.6], [272.1, 277.0],
  [274.1, 277.4], [272.6, 277.9], [274.5, 278.4], [274.2, 278.9],
  [260.5, 262.4], [257.4, 262.7], [255.7, 263.1], [259.8, 263.4], [262.3, 263.8], [258.0, 264.1], [261.9, 264.5],
  [260.2, 264.8], [258.0, 265.2], [263.9, 265.6], [261.7, 265.9], [259.9, 266.3], [263.6, 266.6], [259.5, 267.0],
  [265.9, 267.3], [263.8, 267.7], [262.2, 268.0], [266.3, 268.4], [261.9, 268.8], [264.6, 269.1], [266.7, 269.5],
  [264.5, 269.9], [268.9, 270.2], [263.2, 270.6], [267.2, 270.9], [265.4, 271.3], [269.5, 271.7], [267.2, 272.0],
  [269.3, 272.4], [265.6, 272.7], [271.6, 273.1], [269.2, 273.5], [267.6, 273.8], [271.7, 274.2], [269.5, 274.6],
  [271.4, 274.9], [268.5, 275.3], [273.9, 275.7], [271.6, 276.0], [270.4, 276.4], [274.1, 276.8], [272.0, 277.2],
  [275.5, 277.7], [271.9, 278.2], [275.3, 278.7], [274.6, 279.1],
];

// ---- residual histogram (bins of 2.5 from -150 to 150) ----
const histMin = -150;
const histBinWidth = 2.5;
const histValues = [
  0, 1, 0, 0, 1, 0, 1, 0, 0, 1, 1, 0, 1, 1, 0, 2, 1, 1, 0, 2, 1, 2, 1, 2, 3, 2, 1, 3, 2, 3,
  4, 3, 5, 6, 5, 7, 9, 8, 12, 16,
  22, 25, 24, 27, 30, 36, 38, 42, 46, 48,
  62, 59, 70, 82, 100, 128, 170, 250, 420, 589,
  586, 430, 250, 170, 118, 86, 64, 60, 52, 55,
  50, 55, 46, 41, 32, 30, 22, 20, 19, 18,
  17, 9, 8, 6, 7, 5, 4, 5, 3, 4,
  3, 2, 3, 2, 1, 2, 1, 1, 2, 1, 0, 1, 1, 0, 1, 0, 1, 0, 0, 1, 0, 0, 1, 0, 0, 1, 0, 0, 0, 1,
];
// ---- fitted curve ----
const fitX = [
  -150, -120, -100, -80, -70, -60, -50, -45, -40, -35, -30, -26, -22, -19, -16, -14, -12, -10, -9, -8, -7, -6, -5,
  -4, -3, -2, -1, 0, 1, 2, 3, 4, 5, 6, 7, 8, 9, 10, 12, 14, 16, 19, 22, 26, 30, 35, 40, 45, 50, 60, 70, 80, 100,
  120, 150,
];
const fitY = [
  1, 1, 2, 3, 4, 5, 7, 9, 11, 14, 19, 25, 34, 45, 60, 77, 100, 132, 153, 180, 212, 250, 297, 350, 405, 457, 495,
  510, 495, 457, 405, 350, 297, 250, 212, 180, 153, 132, 100, 77, 60, 45, 34, 25, 19, 14, 11, 9, 7, 5, 4, 3, 2, 1,
  1,
];

function txt(text: string, x: number, y: number, size: number, align = "left", extra: any = {}) {
  return {
    type: "text",
    z: 102,
    x,
    y,
    ...extra,
    style: {
      text,
      fill: "#000",
      font: `bold ${size}px ${FONT}`,
      align,
      textAlign: align,
      verticalAlign: "middle",
      textVerticalAlign: "middle",
    },
  };
}

function shadowBox(x: number, y: number, w: number, h: number, sh = 3) {
  return [
    { type: "rect", z: 100, shape: { x: x + sh, y: y + sh, width: w, height: h }, style: { fill: "#000" } },
    {
      type: "rect",
      z: 101,
      shape: { x: x + 0.5, y: y + 0.5, width: w, height: h },
      style: { fill: PAD, stroke: "#000", lineWidth: 1 },
    },
  ];
}

function pad(x: number, y: number, w: number, h: number) {
  return [
    { type: "rect", z: -10, shape: { x, y, width: w, height: h }, style: { fill: PAD } },
    { type: "rect", z: -9, shape: { x: x + w - 4, y, width: 4, height: h }, style: { fill: "#b4b4b4" } },
    { type: "rect", z: -9, shape: { x, y: y + h - 4, width: w, height: 4 }, style: { fill: "#b4b4b4" } },
  ];
}

function statsBox(
  x: number, y: number, w: number, h: number, name: string, labels: string[], values: string[],
  rowY: number[], size: number, headSize: number, labelX: number, valueX: number
) {
  const els: any[] = [...shadowBox(x, y, w, h)];
  els.push({
    type: "line",
    z: 102,
    shape: { x1: x, y1: y + 27.5, x2: x + w, y2: y + 27.5 },
    style: { stroke: "#000", lineWidth: 1 },
  });
  els.push(txt(name, x + w / 2, y + 14, headSize, "center"));
  labels.forEach((l, i) => {
    els.push(txt(l, labelX, rowY[i], size, "left"));
    els.push(txt(values[i], valueX, rowY[i], size, "right"));
  });
  return els;
}

const labelStyle = { fontSize: 18, fontWeight: "bold", fontFamily: FONT, color: "#000" };

export default function App() {
  const ref = useRef<HTMLDivElement>(null);
  useEffect(() => {
    if (!ref.current) return;
    const chart = echarts.init(ref.current, undefined, { renderer: "svg" });

    const cloud = [
      ...sparseTop, ...sparseSide, ...cloudUpper, ...cloudUpper2, ...cloudUpper3, ...envelopeUpper,
      ...cloudMiddle, ...cloudMiddle2, ...envelopeLower, ...cloudLower,
    ];
    const band = [...bandUpper, ...bandLower];
    const histLine: number[][] = histValues.map((v, i) => [histMin + i * histBinWidth, v]);
    histLine.push([histMin + histValues.length * histBinWidth, histValues[histValues.length - 1]]);
    const fitLine = fitX.map((x, i) => [x, fitY[i]]);

    const tick = (len: number) => ({ show: true, inside: true, length: len, lineStyle: { color: "#000", width: 1 } });
    const minor = (n: number) => ({ show: true, splitNumber: n, length: 7, lineStyle: { color: "#000", width: 1 } });
    const axisLine = { show: true, onZero: false, lineStyle: { color: "#000", width: 1 } };

    const graphics: any[] = [
      ...pad(13, 6, 512, 698),
      ...pad(550, 6, 510, 698),
      ...shadowBox(18, 10, 360, 33),
      txt(leftTitle, 32, 27, 18, "left"),
      ...shadowBox(554, 10, 289, 33),
      txt(rightTitle, 577, 27, 18, "left"),
      ...statsBox(413, 10, 105, 171, hxName, hxLabels, hxValues, [52, 80, 108, 136, 163], 13.5, 17, 420, 511),
      ...statsBox(949, 10, 106, 113, hresName, hresLabels, hresValues, [51, 79, 107], 12.5, 17, 954, 1048),
      txt(leftXTitle, 475, 681, 18, "right"),
      txt(rightXTitle, 1012, 681, 18, "right"),
      txt(leftYTitle, 31, 74, 18, "right", { rotation: Math.PI / 2 }),
    ];

    chart.setOption({
      animation: false,
      backgroundColor: "#ffffff",
      textStyle: { fontFamily: FONT },
      grid: [
        { left: 64, top: 75, width: 411, height: 559, show: true, borderColor: "#000", borderWidth: 1, backgroundColor: "transparent" },
        { left: 602, top: 76, width: 410, height: 559, show: true, borderColor: "#000", borderWidth: 1, backgroundColor: "transparent" },
      ],
      xAxis: [
        {
          type: "value", gridIndex: 0, position: "bottom", min: posRange[0], max: posRange[1], interval: posStep,
          axisLine, axisTick: tick(14), minorTick: minor(4), splitLine: { show: false },
          axisLabel: { ...labelStyle, margin: 10 },
        },
        {
          type: "value", gridIndex: 1, position: "bottom", min: resRange[0], max: resRange[1], interval: resStep,
          axisLine, axisTick: tick(14), minorTick: minor(5), splitLine: { show: false },
          axisLabel: { ...labelStyle, margin: 10 },
        },
      ],
      yAxis: [
        {
          type: "value", gridIndex: 0, position: "left", min: posRange[0], max: posRange[1], interval: posStep,
          axisLine, axisTick: tick(13), minorTick: minor(4), splitLine: { show: false },
          axisLabel: { ...labelStyle, margin: 4 },
        },
        {
          type: "value", gridIndex: 1, position: "left", min: countRange[0], max: countRange[1], interval: countStep,
          axisLine, axisTick: tick(13), minorTick: { show: false }, splitLine: { show: false },
          axisLabel: { ...labelStyle, margin: 7, showMaxLabel: false },
        },
        {
          type: "value", gridIndex: 1, position: "left", min: countRange[0], max: countRange[1], interval: countMinorStep,
          axisLine: { show: false, onZero: false }, axisTick: tick(7), splitLine: { show: false }, axisLabel: { show: false },
        },
      ],
      graphic: { elements: graphics },
      series: [
        {
          type: "scatter", xAxisIndex: 0, yAxisIndex: 0, data: cloud, symbol: "rect", symbolSize: 2.7,
          itemStyle: { color: "#000" }, silent: true,
        },
        {
          type: "scatter", xAxisIndex: 0, yAxisIndex: 0, data: band, symbol: "rect", symbolSize: 4.4,
          itemStyle: { color: "#000" }, silent: true,
        },
        {
          type: "line", xAxisIndex: 1, yAxisIndex: 1, data: histLine, step: "end", showSymbol: false, symbol: "none",
          lineStyle: { color: "#000", width: 1.2 }, silent: true,
        },
        {
          type: "line", xAxisIndex: 1, yAxisIndex: 1, data: fitLine, showSymbol: false, symbol: "none",
          lineStyle: { color: "#000", width: 4 }, silent: true,
        },
      ],
    });
    return () => chart.dispose();
  }, []);
  return <div ref={ref} style={{ position: "absolute", left: 0, top: 0, width: 1063, height: 711 }} />;
}
